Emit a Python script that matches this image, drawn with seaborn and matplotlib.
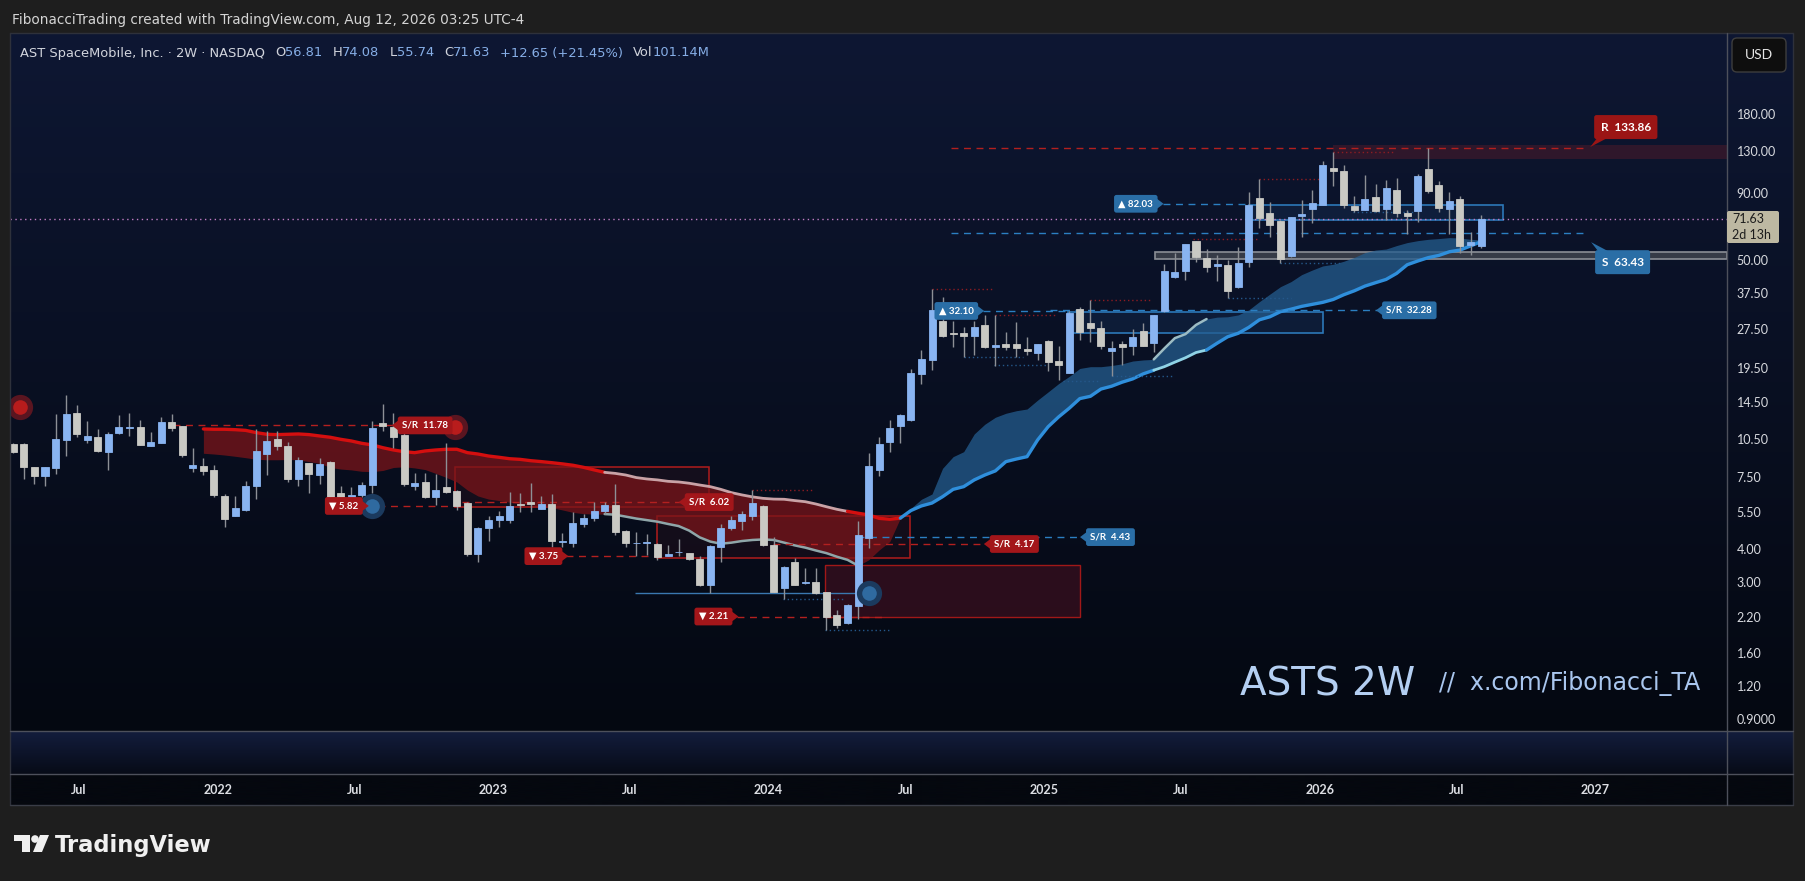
import numpy as np
import pandas as pd
import matplotlib
matplotlib.use("Agg")
import matplotlib.pyplot as plt
import matplotlib.dates as mdates
from matplotlib.colors import LinearSegmentedColormap
from matplotlib.patches import FancyBboxPatch, Polygon, Rectangle, Circle
from matplotlib.lines import Line2D
from matplotlib.ticker import NullLocator
import seaborn as sns

W, H = 1805, 881

# two-week bars, first bar starts 2021-04-05
first_bar = "2021-04-05"
opens = [10.02, 10.02, 8.17, 7.54, 8.08, 10.38, 13.14, 10.38, 10.66, 9.37,
         11.03, 11.53, 11.63, 9.87, 10.14, 12.15, 11.70, 8.14, 8.27, 7.99,
         6.36, 5.31, 5.60, 6.90, 9.21, 10.47, 9.85, 7.34, 8.46, 7.61,
         8.56, 6.51, 6.21, 6.40, 6.97, 12.05, 11.66, 10.85, 6.94, 7.20,
         6.32, 6.88, 6.65, 5.96, 3.81, 4.80, 5.15, 5.15, 5.94, 6.03,
         5.69, 5.92, 4.26, 4.22, 4.98, 5.25, 5.57, 5.87, 4.68, 4.19,
         4.20, 4.18, 3.76, 3.88, 3.85, 3.66, 2.90, 4.05, 4.80, 5.12,
         5.35, 5.82, 4.13, 2.83, 3.57, 2.97, 2.99, 2.74, 2.24, 2.08,
         2.43, 4.40, 7.95, 10.20, 11.75, 12.40, 18.50, 20.80, 29.30, 26.50,
         26.50, 25.70, 28.50, 23.40, 24.00, 24.00, 23.10, 22.30, 24.70, 20.70,
         18.70, 32.60, 29.00, 27.60, 22.60, 24.10, 23.70, 27.00, 24.20, 32.00,
         43.30, 45.60, 59.20, 51.00, 47.70, 48.00, 39.60, 49.40, 86.20, 75.50,
         70.70, 51.90, 73.60, 78.50, 81.10, 112.20, 109.40, 80.20, 77.70, 87.30,
         78.10, 92.50, 76.00, 77.10, 111.20, 96.60, 78.10, 85.60, 57.20, 56.81]
highs = [10.14, 10.14, 8.20, 8.20, 13.02, 15.38, 14.09, 12.25, 11.40, 11.13,
         12.92, 13.14, 12.36, 11.13, 12.69, 13.02, 11.75, 9.65, 8.85, 8.34,
         6.47, 6.36, 7.26, 11.40, 11.26, 11.26, 10.20, 8.92, 8.50, 8.85,
         8.65, 6.94, 6.86, 7.17, 12.20, 14.21, 13.10, 11.00, 7.78, 7.76,
         7.67, 10.08, 6.70, 6.05, 4.82, 5.33, 5.57, 6.60, 6.54, 7.14,
         6.35, 6.46, 4.58, 5.52, 5.43, 6.05, 6.05, 7.06, 4.70, 4.62,
         4.55, 4.20, 4.14, 4.35, 3.86, 3.74, 4.12, 4.98, 5.35, 5.57,
         6.68, 5.85, 4.42, 3.44, 3.68, 3.39, 3.39, 2.75, 2.35, 2.47,
         5.10, 9.28, 10.60, 12.40, 13.00, 19.30, 22.80, 38.80, 36.20, 29.30,
         28.00, 29.30, 31.00, 31.00, 26.70, 29.20, 25.50, 24.10, 24.90, 23.60,
         32.20, 33.30, 35.30, 29.40, 24.70, 24.70, 27.30, 28.90, 31.00, 48.50,
         53.40, 57.80, 59.40, 55.20, 52.60, 50.10, 56.30, 91.10, 101.60, 83.20,
         70.90, 73.00, 84.80, 92.50, 119.00, 129.00, 115.60, 87.80, 105.50, 97.50,
         101.00, 103.00, 77.70, 106.70, 133.90, 100.00, 90.90, 88.00, 64.00, 74.08]
lows = [9.29, 7.36, 7.05, 6.94, 7.67, 9.02, 10.60, 10.14, 9.35, 7.99,
        10.94, 10.75, 9.93, 9.87, 10.14, 11.26, 8.90, 7.80, 7.65, 6.27,
        4.84, 5.31, 5.55, 6.21, 7.61, 9.54, 7.20, 6.90, 6.51, 7.05,
        6.26, 6.14, 6.14, 6.32, 6.51, 11.17, 9.70, 6.90, 6.71, 6.25,
        5.85, 6.51, 5.60, 3.77, 3.55, 4.30, 4.86, 5.03, 5.54, 5.54,
        5.68, 4.08, 4.08, 4.08, 4.86, 5.10, 5.43, 4.50, 4.08, 3.76,
        3.80, 3.61, 3.75, 3.76, 3.63, 2.89, 2.71, 3.55, 4.72, 4.70,
        5.15, 4.11, 2.74, 2.58, 2.91, 2.94, 2.70, 1.97, 2.00, 2.07,
        2.17, 4.02, 7.55, 9.30, 10.10, 12.20, 17.00, 19.10, 25.60, 23.50,
        21.40, 21.90, 23.20, 19.90, 22.80, 21.40, 21.90, 20.80, 19.00, 17.50,
        18.60, 24.90, 24.40, 23.10, 18.20, 20.00, 21.90, 23.60, 22.40, 31.90,
        43.00, 42.10, 49.40, 45.30, 41.70, 35.80, 39.30, 47.30, 66.10, 61.50,
        48.70, 51.30, 61.10, 69.10, 80.90, 96.10, 79.40, 76.60, 77.60, 76.60,
        71.00, 73.20, 62.90, 69.80, 90.20, 76.60, 62.90, 53.10, 52.60, 55.74]
closes = [9.37, 8.22, 7.54, 8.17, 10.44, 13.02, 10.88, 10.75, 9.43, 10.94,
          11.63, 11.63, 9.96, 10.20, 12.15, 11.56, 9.13, 8.34, 7.87, 6.41,
          5.21, 5.73, 6.94, 9.43, 10.29, 9.87, 7.34, 8.72, 7.67, 8.41,
          6.28, 6.21, 6.40, 6.99, 11.53, 11.76, 10.60, 7.03, 7.13, 6.27,
          6.71, 6.55, 5.80, 3.83, 4.80, 5.15, 5.33, 5.82, 5.89, 5.94,
          5.92, 4.30, 4.30, 5.01, 5.24, 5.57, 5.87, 4.65, 4.20, 4.22,
          4.23, 3.72, 3.81, 3.90, 3.66, 2.90, 4.10, 4.80, 5.15, 5.43,
          5.98, 4.12, 2.75, 3.42, 2.92, 3.00, 2.71, 2.20, 2.06, 2.45,
          4.50, 8.26, 10.00, 11.55, 12.90, 18.65, 21.10, 32.50, 25.80, 26.30,
          25.80, 27.80, 23.40, 23.90, 23.40, 23.30, 22.60, 24.00, 20.60, 20.00,
          31.60, 26.80, 27.60, 23.70, 23.20, 23.50, 25.60, 23.70, 30.90, 45.40,
          45.10, 57.70, 51.60, 47.30, 48.40, 38.30, 48.80, 80.90, 72.40, 68.30,
          50.70, 72.80, 75.00, 82.60, 115.60, 109.40, 81.40, 77.90, 85.50, 77.00,
          94.20, 75.40, 73.60, 104.70, 91.60, 79.00, 84.00, 56.90, 58.60, 71.63]

# red ribbon, bars 18..84
red_start = 18
red_upper = [11.42, 11.39, 11.39, 11.35, 11.28, 11.06, 10.90, 10.87, 10.90, 10.93,
             10.87, 10.74, 10.62, 10.43, 10.28, 10.07, 9.93, 9.69, 9.50, 9.36,
             9.28, 9.42, 9.50, 9.56, 9.56, 9.28, 9.17, 9.01, 8.91, 8.80,
             8.75, 8.65, 8.58, 8.50, 8.41, 8.31, 8.16, 7.98, 7.81, 7.74,
             7.63, 7.46, 7.37, 7.31, 7.22, 7.18, 7.10, 6.99, 6.89, 6.73,
             6.54, 6.41, 6.30, 6.22, 6.18, 6.17, 6.10, 6.04, 5.92, 5.78,
             5.65, 5.55, 5.46, 5.38, 5.22, 5.18, 5.23]
red_lower = [9.23, 9.17, 9.09, 8.99, 8.88, 8.76, 8.72, 8.72, 8.74, 8.72,
             8.58, 8.45, 8.16, 8.04, 7.98, 7.88, 7.86, 7.94, 8.15, 8.20,
             8.12, 8.00, 7.74, 7.47, 7.18, 6.69, 6.35, 6.18, 6.10, 6.01,
             5.94, 5.87, 5.82, 5.73, 5.62, 5.50, 5.44, 5.42, 5.42, 5.39,
             5.30, 5.21, 5.14, 5.07, 4.97, 4.88, 4.69, 4.42, 4.26, 4.18,
             4.22, 4.28, 4.32, 4.34, 4.32, 4.22, 4.12, 4.04, 3.94, 3.85,
             3.73, 3.63, 3.45, 3.63, 3.96, 4.26, 5.23]

# blue ribbon, bars 84..139
blue_start = 84
blue_upper = [5.23, 5.70, 6.17, 6.46, 8.09, 8.96, 9.36, 10.93, 11.90, 12.65,
              13.10, 13.40, 13.60, 14.70, 15.80, 17.00, 18.10, 19.40, 19.70, 19.70,
              19.90, 20.20, 20.70, 20.90, 21.00, 23.10, 25.30, 26.20, 28.40, 29.90,
              30.40, 30.50, 31.00, 32.40, 34.80, 37.20, 39.70, 41.50, 44.10, 45.90,
              47.60, 48.30, 49.60, 51.30, 53.50, 54.70, 55.20, 56.90, 58.40, 59.40,
              60.10, 60.50, 61.00, 60.80, 60.10, 59.80]
blue_lower = [5.23, 5.59, 5.82, 5.97, 6.31, 6.73, 6.89, 7.31, 7.63, 7.91,
              8.58, 8.78, 8.96, 10.37, 11.65, 12.70, 13.70, 14.90, 15.20, 16.20,
              16.60, 17.20, 17.70, 18.50, 19.10, 19.70, 20.50, 21.30, 22.30, 22.80,
              24.20, 25.60, 26.40, 27.80, 29.70, 30.50, 31.90, 32.60, 33.40, 34.00,
              34.60, 35.50, 37.00, 38.30, 39.90, 41.10, 42.30, 44.60, 48.10, 49.70,
              51.20, 52.20, 53.90, 54.70, 56.70, 58.90]

price_ticks = [180, 130, 90, 50, 37.5, 27.5, 19.5, 14.5, 10.5, 7.5, 5.5, 4, 3, 2.2, 1.6, 1.2, 0.9]
price_tick_labels = ["180.00", "130.00", "90.00", "50.00", "37.50", "27.50", "19.50",
                     "14.50", "10.50", "7.50", "5.50", "4.00", "3.00", "2.20", "1.60", "1.20", "0.9000"]
time_ticks = ["2021-07-01", "2022-01-01", "2022-07-01", "2023-01-01", "2023-07-01", "2024-01-01",
              "2024-07-01", "2025-01-01", "2025-07-01", "2026-01-01", "2026-07-01", "2027-01-01"]
time_tick_labels = ["Jul", "2022", "Jul", "2023", "Jul", "2024", "Jul", "2025", "Jul", "2026", "Jul", "2027"]

# drawn levels: (from bar, to bar, price)
red_levels = [(15.1, 36.4, 11.78), (34.5, 42.5, 5.82), (42.5, 63.4, 6.02), (52.3, 61.0, 3.75),
              (68.5, 82.6, 2.21), (71.9, 92.2, 4.17), (88.8, 149.0, 133.86)]
blue_levels = [(79.9, 101.3, 4.43), (91.8, 99.9, 32.10), (98.2, 129.6, 32.28),
               (108.9, 117.0, 82.03), (88.8, 149.0, 63.43)]
red_pivots = [(87.0, 92.7, 38.8), (93.0, 98.8, 31.0), (102.0, 107.8, 35.3), (111.7, 117.8, 60.1),
              (118.0, 123.8, 101.6), (125.0, 130.8, 129.5), (70.0, 75.7, 6.7)]
blue_pivots = [(90.0, 95.6, 21.4), (92.9, 97.9, 20.0), (99.4, 102.9, 17.4), (104.0, 109.7, 18.2),
               (115.0, 121.0, 35.8), (120.0, 125.8, 48.7), (126.9, 132.7, 76.6),
               (72.9, 78.6, 2.58), (76.9, 83.0, 1.97)]
red_zones = [(41.8, 65.9, 5.75, 8.16), (61.0, 84.9, 3.70, 5.33)]
dark_zone = (76.9, 101.0, 2.20, 3.47)
blue_zones = [(99.9, 124.0, 26.5, 31.8), (117.0, 141.1, 71.2, 80.9)]
gray_zone = (108.1, 50.6, 53.8)
resist_zone = (125.0, 121.4, 137.2)
tags = [("S/R  11.78", 39.0, 11.78, "red", "left"), ("▼ 5.82", 31.3, 5.82, "red", "right"),
        ("S/R  6.02", 65.9, 6.02, "red", "left"), ("▼ 3.75", 50.2, 3.75, "red", "right"),
        ("▼ 2.21", 66.3, 2.21, "red", "right"), ("S/R  4.17", 94.8, 4.17, "red", "left"),
        ("S/R  4.43", 103.9, 4.43, "blue", "left"), ("▲ 32.10", 89.3, 32.10, "blue", "right"),
        ("S/R  32.28", 132.2, 32.28, "blue", "left"), ("▲ 82.03", 106.3, 82.03, "blue", "right")]
last_price = 71.63

RED, BLUE = "#a3161a", "#2a6ea6"
UP, DOWN, WICK = "#89b4f1", "#c9c9c4", "#8d9096"

sns.set_theme(style="dark")
plt.rcParams["font.family"] = ["Lato", "DejaVu Sans"]

fig = plt.figure(figsize=(W / 100, H / 100), dpi=100, facecolor="#1e1e1e")


def rect(x0, y0, x1, y1):
    return [x0 / W, 1 - y1 / H, (x1 - x0) / W, (y1 - y0) / H]


def grad_axes(box, top, bottom):
    a = fig.add_axes(rect(*box))
    cmap = LinearSegmentedColormap.from_list("g", [bottom, top])
    a.imshow(np.linspace(0, 1, 256).reshape(-1, 1), cmap=cmap, aspect="auto",
             origin="lower", extent=[0, 1, 0, 1])
    a.set_axis_off()
    return a


def fig_line(x0, y0, x1, y1, color, lw=1.0):
    fig.add_artist(Line2D([x0 / 100, x1 / 100], [(H - y0) / 100, (H - y1) / 100],
                          transform=fig.dpi_scale_trans, color=color, lw=lw))


def fig_box(x0, y0, x1, y1, fc, ec="none", r=0.0, lw=1.0, z=5):
    p = FancyBboxPatch((x0 / 100, (H - y1) / 100), (x1 - x0) / 100, (y1 - y0) / 100,
                       boxstyle=f"round,pad=0,rounding_size={r / 100}", transform=fig.dpi_scale_trans,
                       fc=fc, ec=ec, lw=lw, zorder=z)
    fig.add_artist(p)


def fig_text(x, y, s, **kw):
    return fig.text(x / W, 1 - y / H, s, **kw)


grad_axes((10, 33, 1793, 731), "#0e1733", "#040811")
grad_axes((10, 731, 1793, 774), "#131d3d", "#070b17")
grad_axes((10, 774, 1793, 805), "#05080f", "#05080f")

ax = fig.add_axes(rect(10, 33, 1727, 731))
ax.set_facecolor("none")
ax_ind = fig.add_axes(rect(10, 731, 1727, 774))
ax_ind.set_facecolor("none")

df = pd.DataFrame({"date": pd.date_range(first_bar, periods=len(opens), freq="14D"),
                   "open": opens, "high": highs, "low": lows, "close": closes})
df["x"] = mdates.date2num(df["date"])
x0 = df["x"].iloc[0]
bar_days = 14.0


def bx(k):
    return x0 + k * bar_days


ax.set_yscale("log")
ax.set_xlim(x0 - 4.4, x0 + 2272)
ax.set_ylim(0.811, 366)
ax_ind.set_xlim(ax.get_xlim())
ax_ind.set_ylim(0, 1)

# zones
for k0, k1, lo, hi in red_zones:
    ax.add_patch(Rectangle((bx(k0), lo), bx(k1) - bx(k0), hi - lo, fc=(0.7, 0.1, 0.1, 0.08),
                           ec="#b01c1c", lw=1.1, zorder=2))
k0, k1, lo, hi = dark_zone
ax.add_patch(Rectangle((bx(k0), lo), bx(k1) - bx(k0), hi - lo, fc=(0.25, 0.06, 0.12, 0.65),
                       ec="#a01818", lw=1.0, zorder=2))
for k0, k1, lo, hi in blue_zones:
    ax.add_patch(Rectangle((bx(k0), lo), bx(k1) - bx(k0), hi - lo, fc=(0.09, 0.2, 0.36, 0.35),
                           ec="#2c78b8", lw=1.2, zorder=2))
xr_end = ax.get_xlim()[1]
k0, lo, hi = gray_zone
ax.add_patch(Rectangle((bx(k0), lo), xr_end - bx(k0), hi - lo, fc="#363b47", ec="#8b8e96", lw=1.2, zorder=2))
k0, lo, hi = resist_zone
ax.add_patch(Rectangle((bx(k0), lo), xr_end - bx(k0), hi - lo, fc=(0.3, 0.1, 0.17, 0.55), ec="none", zorder=2))

# ribbons
xr = np.array([bx(k) for k in range(red_start, red_start + len(red_upper))])
ax.fill_between(xr, red_lower, red_upper, color="#7a1419", alpha=0.75, lw=0, zorder=3)
xb = np.array([bx(k) for k in range(blue_start, blue_start + len(blue_upper))])
ax.fill_between(xb, blue_lower, blue_upper, color="#245d8f", alpha=0.75, lw=0, zorder=3)


def edge(xs, ys, start, k0, k1, color, lw):
    i0, i1 = k0 - start, k1 - start + 1
    sns.lineplot(x=xs[i0:i1], y=np.array(ys)[i0:i1], ax=ax, color=color, lw=lw,
                 legend=False, errorbar=None, sort=False, zorder=4)


edge(xr, red_upper, red_start, 18, 56, "#d40f0f", 2.4)
edge(xr, red_upper, red_start, 56, 79, "#c9a2a6", 2.0)
edge(xr, red_upper, red_start, 79, 84, "#d40f0f", 2.4)
edge(xr, red_lower, red_start, 56, 80, "#8fa6a9", 1.8)
edge(xb, blue_lower, blue_start, 84, 108, "#2f8fdc", 2.4)
edge(xb, blue_lower, blue_start, 108, 113, "#8fd3e6", 2.0)
edge(xb, blue_lower, blue_start, 113, 139, "#2f8fdc", 2.4)
edge(xb, blue_upper, blue_start, 108, 113, "#9cbcc4", 1.8)

# levels
for k0, k1, p in red_levels:
    ax.hlines(p, bx(k0), bx(k1), colors="#b3201f", lw=1.0, linestyles=(0, (5, 4)), zorder=4)
for k0, k1, p in blue_levels:
    ax.hlines(p, bx(k0), bx(k1), colors="#2b7fc2", lw=1.0, linestyles=(0, (5, 4)), zorder=4)
for k0, k1, p in red_pivots:
    ax.hlines(p, bx(k0), bx(k1), colors="#8c1c22", lw=1.0, linestyles=(0, (1, 2)), zorder=4)
for k0, k1, p in blue_pivots:
    ax.hlines(p, bx(k0), bx(k1), colors="#24578a", lw=1.0, linestyles=(0, (1, 2)), zorder=4)
ax.hlines(2.72, bx(58.9), bx(81.0), colors="#3a78b0", lw=1.0, zorder=4)
ax.axhline(last_price, color="#c07cc4", lw=1.0, ls=(0, (1, 2.5)), zorder=4)

# candles
up = df["close"] >= df["open"]
ax.vlines(df["x"], df["low"], df["high"], color=WICK, lw=1.0, zorder=5)
ax.bar(df["x"], df["close"] - df["open"], bottom=df["open"], width=9.3,
       color=np.where(up, UP, DOWN), edgecolor=np.where(up, UP, DOWN), lw=0.6, zorder=6)

# markers
for k, p, inner, halo in [(0.63, 13.9, "#b81c1c", "#5a1520"), (41.8, 11.6, "#b81c1c", "#5a1520"),
                          (34.0, 5.8, "#2f6aa0", "#1b3a5e"), (81.0, 2.72, "#2f6aa0", "#1b3a5e")]:
    ax.scatter([bx(k)], [p], s=330, color=halo, lw=0, zorder=7)
    ax.scatter([bx(k)], [p], s=110, color=inner, lw=0, zorder=8)

# axis styling
for a in (ax, ax_ind):
    for s in a.spines.values():
        s.set_visible(False)
    a.grid(False)
ax.yaxis.tick_right()
ax.set_yticks(price_ticks)
ax.set_yticklabels(price_tick_labels)
ax.yaxis.set_minor_locator(NullLocator())
ax.tick_params(axis="y", which="both", length=0, pad=7, labelsize=9, labelcolor="#d8dadf")
ax.set_xticks([])
ax_ind.set_yticks([])
ax_ind.set_xticks(mdates.date2num(pd.to_datetime(time_ticks)))
ax_ind.set_xticklabels(time_tick_labels, fontweight="bold")
ax_ind.tick_params(axis="x", length=0, pad=7, labelsize=9, labelcolor="#dcdee3")

# tags
tag_texts = []
for text, k, p, col, side in tags:
    c = RED if col == "red" else BLUE
    t = ax.text(bx(k), p, text, ha="center", va="center", color="white", fontsize=7, fontweight="bold",
                zorder=12, bbox=dict(boxstyle="round,pad=0.45,rounding_size=0.25", fc=c, ec="none"))
    tag_texts.append((t, c, side))

# R / S tags on the right
r_tag = ax.text(bx(152.7), 160.6, "R  133.86", ha="center", va="center", color="white", fontsize=8.5,
                fontweight="bold", zorder=12,
                bbox=dict(boxstyle="round,pad=0.55,rounding_size=0.2", fc="#9b1515", ec="none"))
s_tag = ax.text(bx(152.4), 49.2, "S  63.43", ha="center", va="center", color="white", fontsize=8.5,
                fontweight="bold", zorder=12,
                bbox=dict(boxstyle="round,pad=0.55,rounding_size=0.2", fc="#2a6ea6", ec="none"))

fig.canvas.draw()
renderer = fig.canvas.get_renderer()
inv = ax.transData.inverted()
for t, c, side in tag_texts:
    bb = t.get_bbox_patch().get_window_extent(renderer)
    yc, h = (bb.y0 + bb.y1) / 2, bb.height
    if side == "left":
        pts = [(bb.x0 + 1, yc + h * 0.3), (bb.x0 - 6, yc), (bb.x0 + 1, yc - h * 0.3)]
    else:
        pts = [(bb.x1 - 1, yc + h * 0.3), (bb.x1 + 6, yc), (bb.x1 - 1, yc - h * 0.3)]
    ax.add_patch(Polygon(inv.transform(pts), closed=True, fc=c, ec="none", zorder=12))
bb = r_tag.get_bbox_patch().get_window_extent(renderer)
ax.add_patch(Polygon(inv.transform([(bb.x0 + 3, bb.y0 + 1), (bb.x0 + 13, bb.y0 + 1), (bb.x0 - 4, bb.y0 - 8)]),
                     closed=True, fc="#9b1515", ec="none", zorder=12))
bb = s_tag.get_bbox_patch().get_window_extent(renderer)
ax.add_patch(Polygon(inv.transform([(bb.x0 + 3, bb.y1 - 1), (bb.x0 + 13, bb.y1 - 1), (bb.x0 - 4, bb.y1 + 8)]),
                     closed=True, fc="#2a6ea6", ec="none", zorder=12))

# frame lines
fig_line(10, 33, 1793, 33, "#2e313b")
fig_line(10, 33, 10, 805, "#2e313b")
fig_line(1793, 33, 1793, 805, "#2e313b")
fig_line(10, 805, 1793, 805, "#3a3d47")
fig_line(1727, 33, 1727, 805, "#4d505b")
fig_line(10, 731, 1793, 731, "#4d505b")
fig_line(10, 774, 1793, 774, "#4d505b")

# price-axis widgets
fig_box(1732, 38, 1786, 72, fc="#0e0e0e", ec="#3d3d3d", r=5, z=6)
fig_text(1759, 55, "USD", ha="center", va="center", color="#e6e6e6", fontsize=10, zorder=7)
fig_box(1727, 211, 1779, 243, fc="#bdb8a2", r=2, z=6)
fig_text(1732, 219, "71.63", ha="left", va="center", color="#1c1c1c", fontsize=9, zorder=7)
fig_text(1732, 235, "2d 13h", ha="left", va="center", color="#1c1c1c", fontsize=9, zorder=7)

# header
fig_text(12, 20, "FibonacciTrading created with TradingView.com, Aug 12, 2026 03:25 UTC-4",
         ha="left", va="center", color="#d4d4d4", fontsize=9.8, family="DejaVu Sans")
x = 20.0
white, val = "#d1d4dc", "#86aee6"
parts = [("AST SpaceMobile, Inc. · 2W · NASDAQ", white, 10), ("O", white, 0), ("56.81", val, 10),
         ("H", white, 0), ("74.08", val, 10), ("L", white, 0), ("55.74", val, 10), ("C", white, 0),
         ("71.63", val, 10), ("+12.65 (+21.45%)", val, 10), ("Vol", white, 0), ("101.14M", val, 0)]
for s, c, gap in parts:
    t = fig_text(x, 53, s, ha="left", va="center", color=c, fontsize=9.4, zorder=7, family="DejaVu Sans")
    x += t.get_window_extent(renderer).width + gap

# watermark
fig_text(1240, 696, "ASTS 2W", ha="left", va="baseline", color="#b4cff2", fontsize=28,
         family="DejaVu Sans", zorder=7)
fig_text(1439, 690, "//  x.com/Fibonacci_TA", ha="left", va="baseline", color="#a9c6ee", fontsize=17,
         family="DejaVu Sans", zorder=7)

# TradingView logo
lw_ = dict(transform=fig.dpi_scale_trans, fc="#f0f0f0", ec="none")
fig.add_artist(Rectangle((14 / 100, (H - 841) / 100), 16 / 100, 6 / 100, **lw_))
fig.add_artist(Rectangle((22 / 100, (H - 852) / 100), 8 / 100, 17 / 100, **lw_))
fig.add_artist(Circle((35 / 100, (H - 839) / 100), 3.8 / 100, **lw_))
fig.add_artist(Polygon([(40 / 100, (H - 835) / 100), (49 / 100, (H - 835) / 100),
                        (42 / 100, (H - 852) / 100), (33 / 100, (H - 852) / 100)], closed=True, **lw_))
fig_text(55, 852, "TradingView", ha="left", va="baseline", color="#f0f0f0", fontsize=16.3,
         fontweight="bold", family="DejaVu Sans")

fig.savefig("out.png", dpi=100, facecolor=fig.get_facecolor())
